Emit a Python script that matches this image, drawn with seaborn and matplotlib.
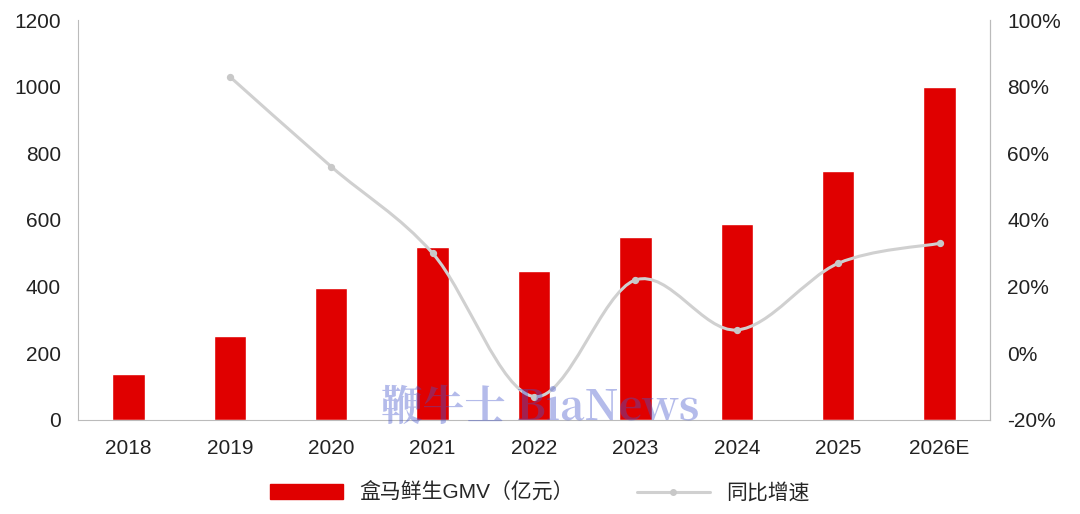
import numpy as np
import pandas as pd
import matplotlib.pyplot as plt
import seaborn as sns
from matplotlib.path import Path
from matplotlib.patches import PathPatch
from matplotlib.lines import Line2D
from matplotlib.patches import Patch

years = ["2018", "2019", "2020", "2021", "2022", "2023", "2024", "2025", "2026E"]
gmv = [138, 253, 397, 518, 448, 548, 588, 748, 998]
growth_years = ["2019", "2020", "2021", "2022", "2023", "2024", "2025", "2026E"]
growth = [83, 56, 30, -13, 22, 7, 27, 33]

sns.set_style("white")
plt.rcParams['font.family'] = ['Liberation Sans', 'Noto Sans CJK SC', 'DejaVu Sans']

fig = plt.figure(figsize=(10.8, 5.14), dpi=100)
ax = fig.add_axes([0.072, 0.183, 0.845, 0.778])

df = pd.DataFrame({"year": years, "gmv": gmv})
sns.barplot(data=df, x="year", y="gmv", color="#e00000", width=0.32, ax=ax, saturation=1)
ax.set_ylim(0, 1200)
ax.set_yticks(range(0, 1201, 200))
ax.set_xlim(-0.5, len(years) - 0.5)
ax.set_xlabel("")
ax.set_ylabel("")
ax.tick_params(axis="both", labelsize=15, colors="#222222", length=0)
ax.tick_params(axis="x", pad=14)
ax.tick_params(axis="y", pad=12)
ax.spines["top"].set_visible(False)
for s in ["left", "right", "bottom"]:
    ax.spines[s].set_color("#bbbbbb")

ax2 = ax.twinx()
ax2.set_ylim(-20, 100)
ax2.set_yticks(range(-20, 101, 20))
ax2.set_yticklabels([f"{v}%" for v in range(-20, 101, 20)])
ax2.tick_params(axis="y", labelsize=15, colors="#222222", length=0, pad=12)
for s in ["top", "left", "bottom"]:
    ax2.spines[s].set_visible(False)
ax2.spines["right"].set_color("#bbbbbb")

# smooth curve through growth points (Catmull-Rom as Bezier)
xs = np.array([years.index(y) for y in growth_years], dtype=float)
ys = np.array(growth, dtype=float)
pts = np.column_stack([xs, ys])
verts = [pts[0]]
codes = [Path.MOVETO]
for i in range(len(pts) - 1):
    p0 = pts[i - 1] if i > 0 else pts[i]
    p1, p2 = pts[i], pts[i + 1]
    p3 = pts[i + 2] if i + 2 < len(pts) else pts[i + 1]
    c1 = p1 + (p2 - p0) / 6
    c2 = p2 - (p3 - p1) / 6
    verts += [c1, c2, p2]
    codes += [Path.CURVE4] * 3
ax2.add_patch(PathPatch(Path(verts, codes), fill=False, edgecolor="#d0d0d0", lw=2.2))
ax2.scatter(xs, ys, s=18, color="#c8c8c8", zorder=3)

fig.text(0.5, 0.205, "鞭牛士 BiaNews", ha="center", va="center", fontsize=30, weight="bold",
         color="#4455cc", alpha=0.4, family=['Noto Serif CJK SC', 'Liberation Serif', 'Noto Sans CJK SC'])

handles = [Patch(color="#e00000"),
           Line2D([0], [0], color="#d0d0d0", lw=2.2, marker="o", markersize=4,
                  markerfacecolor="#c8c8c8", markeredgecolor="#c8c8c8")]
fig.legend(handles, ["盒马鲜生GMV（亿元）", "同比增速"], loc="lower center",
           bbox_to_anchor=(0.5, -0.015), ncol=2, frameon=False, fontsize=15,
           handlelength=3.5, columnspacing=3)

fig.savefig("out.png", dpi=100)
